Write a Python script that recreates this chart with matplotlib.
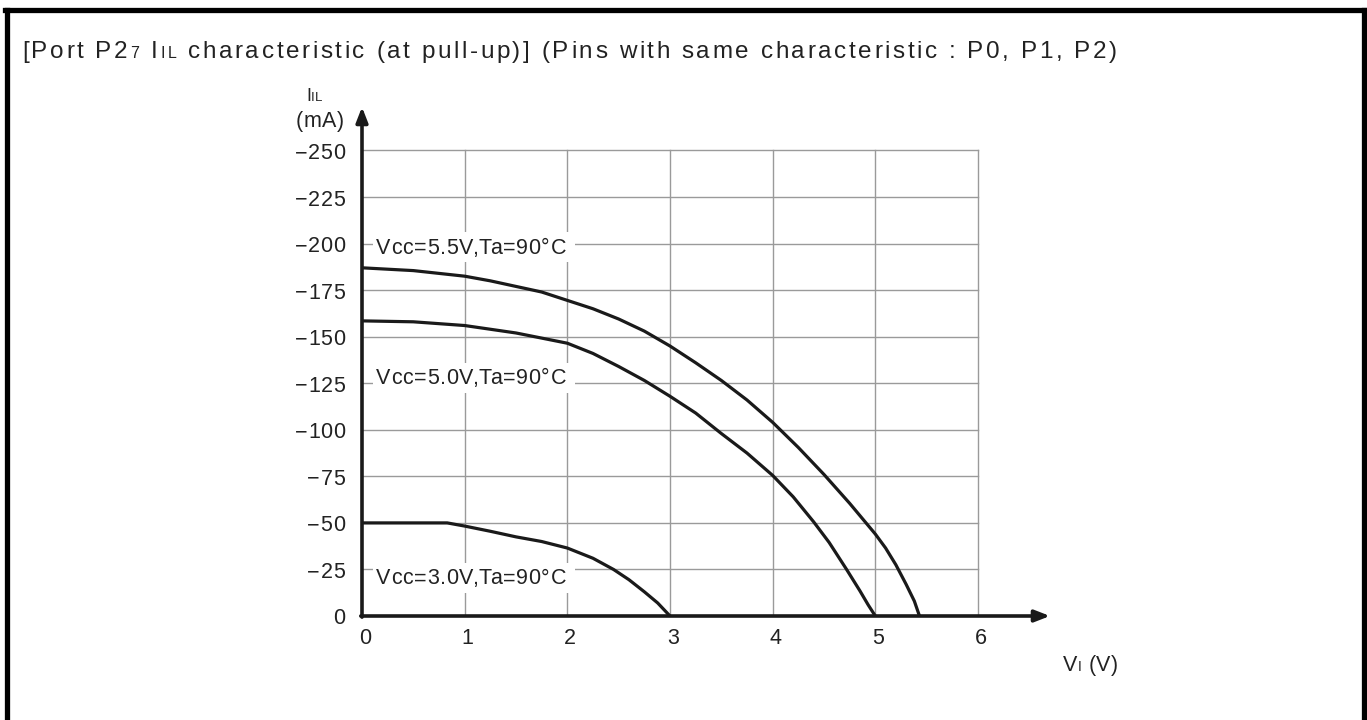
import matplotlib
matplotlib.use("Agg")
import matplotlib.pyplot as plt
from matplotlib.lines import Line2D
from matplotlib.patches import Rectangle
from matplotlib.font_manager import FontProperties, findfont, get_font

try:
    from matplotlib.ft2font import Kerning
    KMODE = Kerning.DEFAULT
except Exception:
    KMODE = 0

plt.rcParams['font.family'] = ['Liberation Sans', 'DejaVu Sans']

# ---- data ----
x_ticks = [0, 1, 2, 3, 4, 5, 6]
y_ticks = [0, -25, -50, -75, -100, -125, -150, -175, -200, -225, -250]
y_tick_labels = ["0", "\u221225", "\u221250", "\u221275", "\u2212100", "\u2212125",
                 "\u2212150", "\u2212175", "\u2212200", "\u2212225", "\u2212250"]

v55_x = [0, 0.5, 1.0, 1.25, 1.5, 1.75, 2.0, 2.25, 2.5, 2.75, 3.0, 3.25, 3.5, 3.75, 4.0,
         4.25, 4.5, 4.75, 5.0, 5.1, 5.2, 5.3, 5.38, 5.43]
v55_y = [-187, -185.5, -182.5, -180, -177, -174, -169.5, -165, -159.5, -153, -145, -136, -126.5,
         -116, -104, -90.5, -76, -60.5, -44, -36.5, -27.5, -17, -8, 0]

v50_x = [0, 0.5, 1.0, 1.5, 2.0, 2.25, 2.5, 2.75, 3.0, 3.25, 3.5, 3.75, 4.0, 4.2, 4.4, 4.55,
         4.72, 4.85, 4.93, 5.0]
v50_y = [-158.5, -158, -156, -152, -146.5, -141, -134, -126.5, -118, -109, -98, -87.5, -75.5,
         -64, -50.5, -39.5, -25, -13.5, -6, 0]

v30_x = [0, 0.83, 1.0, 1.25, 1.5, 1.75, 2.0, 2.25, 2.45, 2.6, 2.75, 2.88, 3.0]
v30_y = [-50, -50, -48.3, -45.5, -42.5, -40, -36.5, -31, -25, -19.5, -13, -7, 0]

labels = ["Vcc=5.5V,Ta=90\u00b0C", "Vcc=5.0V,Ta=90\u00b0C", "Vcc=3.0V,Ta=90\u00b0C"]
label_y = [-198, -128, -20.5]
curves = [(v55_x, v55_y), (v50_x, v50_y), (v30_x, v30_y)]

W, H = 1367, 720
DPI = 100
fig = plt.figure(figsize=(W / DPI, H / DPI), dpi=DPI)
TXT = '#222222'
FAM = 'Liberation Sans'
FONT = get_font(findfont(FontProperties(family=FAM)))


def advance(c, size):
    FONT.set_size(size, DPI)
    g = FONT.load_char(ord(c))
    return g.linearHoriAdvance / 65536.0


def kern(a, b, size):
    try:
        FONT.set_size(size, DPI)
        k = FONT.get_kerning(FONT.get_char_index(ord(a)), FONT.get_char_index(ord(b)), KMODE)
        return k / 64.0
    except Exception:
        return 0.0


def tracked(x_px, y_px, parts, tracking=0.0, ha='left', va='baseline', total=None):
    """Draw text runs char by char with letter spacing; pixel coords from top-left."""
    layout = []  # (char, size, pen offset)
    pen = 0.0
    prev = None
    for txt, s in parts:
        for c in txt:
            if prev is not None and prev[1] == s:
                pen += kern(prev[0], c, s)
            layout.append((c, s, pen))
            pen += advance(c, s)
            prev = (c, s)
    n = len(layout)
    if total is not None and n > 1:
        tracking = (total - pen) / (n - 1)
    full = pen + tracking * (n - 1)
    if ha == 'right':
        x0 = x_px - full
    elif ha == 'center':
        x0 = x_px - full / 2
    else:
        x0 = x_px
    for i, (c, s, o) in enumerate(layout):
        if c == ' ':
            continue
        fig.text((x0 + o + i * tracking) / W, 1 - y_px / H, c, fontsize=s, color=TXT,
                 ha='left', va=va, family=FAM)
    return full


# frame (left, top, right)
lw_frame = 3.8
fig.add_artist(Line2D([6.5 / W, 6.5 / W], [0, 1 - 10 / H], color='black', lw=lw_frame, transform=fig.transFigure))
fig.add_artist(Line2D([1363.5 / W, 1363.5 / W], [0, 1 - 10 / H], color='black', lw=lw_frame, transform=fig.transFigure))
fig.add_artist(Line2D([6.5 / W - 0.0014, 1363.5 / W + 0.0014], [1 - 10 / H, 1 - 10 / H], color='black', lw=lw_frame, transform=fig.transFigure))

# axes geometry
px_per_x = (978 - 362) / 6.0
px_per_y = (616 - 150.5) / 250.0
ax_left, ax_right, ax_bottom, ax_top = 362, 1050, 616, 107
ax = fig.add_axes([ax_left / W, 1 - ax_bottom / H, (ax_right - ax_left) / W, (ax_bottom - ax_top) / H])
ax.set_xlim(0, (ax_right - ax_left) / px_per_x)
ax.set_ylim(0, -(ax_bottom - ax_top) / px_per_y)
for s in ax.spines.values():
    s.set_visible(False)
ax.set_xticks([])
ax.set_yticks([])
ax.patch.set_alpha(0)

grid_c = '#9a9a9a'
for xv in x_ticks[1:]:
    ax.plot([xv, xv], [0, y_ticks[-1]], color=grid_c, lw=1.0, zorder=1)
for yv in y_ticks[1:]:
    ax.plot([0, x_ticks[-1]], [yv, yv], color=grid_c, lw=1.0, zorder=1)

# curves
for xs, ys in curves:
    ax.plot(xs, ys, color='#1a1a1a', lw=2.3, zorder=4, solid_joinstyle='round')

# curve labels with white boxes
lab_size = 15.5
for lab, ly in zip(labels, label_y):
    ypx = ax_bottom + ly * px_per_y
    ax.add_patch(Rectangle((11 / px_per_x, ly - 15 / px_per_y), 202 / px_per_x, 30 / px_per_y,
                           facecolor='white', edgecolor='none', zorder=2))
    tracked(376, ypx + 1, [(lab, lab_size)], total=190, va='center')

# axis arrows
xmax = ax.get_xlim()[1]
ymax = ax.get_ylim()[1]
arrow_kw = dict(arrowstyle='-|>,head_length=0.9,head_width=0.35', color='#1a1a1a', lw=2.6,
                shrinkA=0, shrinkB=0)
ax.annotate('', xy=(xmax, 0), xytext=(-0.012, 0), arrowprops=arrow_kw, annotation_clip=False, zorder=5)
ax.annotate('', xy=(0, ymax), xytext=(0, 0.6), arrowprops=arrow_kw, annotation_clip=False, zorder=5)

# tick labels
for yv, lab in zip(y_ticks, y_tick_labels):
    ypx = ax_bottom + yv * px_per_y
    tracked(345, ypx + 3, [(lab, 15.5)], tracking=0.6, ha='right', va='center')
for xv in x_ticks:
    xpx = ax_left + xv * px_per_x
    tracked(xpx + 3, 638, [(str(xv), 15.5)], ha='center', va='center')

# title
tracked(22, 58, [("[Port P2", 17.5), ("7", 11.5), (" I", 17.5), ("IL", 11.5),
                 (" characteristic (at pull-up)] (Pins with same characteristic : P0, P1, P2)", 17.5)],
        total=1095)

# y axis label
tracked(306, 101, [("I", 13), ("IL", 9.5)])
tracked(344, 127, [("(mA)", 15.5)], ha='right', tracking=0.5)
# x axis label
tracked(1063, 671, [("V", 15.5), ("I", 10), (" (V)", 15.5)], tracking=0.5)

fig.savefig("out.png", dpi=DPI)
